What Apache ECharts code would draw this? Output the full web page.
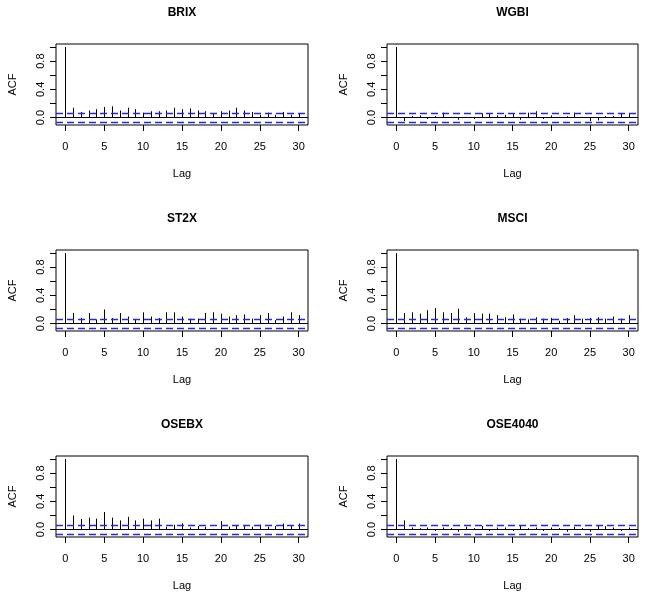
<!DOCTYPE html>
<html>
<head>
<meta charset="utf-8">
<script src="https://cdn.jsdelivr.net/npm/echarts@6/dist/echarts.min.js"></script>
<style>
html,body{margin:0;padding:0;background:#fff;}
#chart{width:645px;height:592px;}
</style>
</head>
<body>
<div id="chart"></div>
<script>
// ---- data ----
const lags = [0,1,2,3,4,5,6,7,8,9,10,11,12,13,14,15,16,17,18,19,20,21,22,23,24,25,26,27,28,29,30];
const panelTitles = ['BRIX','WGBI','ST2X','MSCI','OSEBX','OSE4040'];
const ciBound = 0.062;
const xTickValues = [0,5,10,15,20,25,30];
const yTickValues = [0,0.2,0.4,0.6,0.8,1.0];
const yLabelValues = [0,0.4,0.8];

const acfBRIX = [1,0.14,0.08,0.10,0.12,0.15,0.16,0.10,0.14,0.12,0.07,0.09,0.09,0.10,0.14,0.12,0.13,0.10,0.09,0.06,0.09,0.10,0.14,0.10,0.08,0.04,0.07,0.04,0.08,0.04,0.06];
const acfWGBI = [1,-0.05,0.02,0.03,-0.02,0.02,0.07,0.01,-0.03,0.01,-0.02,0.06,0.06,0.03,0.04,0.05,-0.03,0.07,0.09,-0.02,0.03,0.01,0.02,0.07,0.01,-0.05,-0.04,0.02,0.02,0.06,0.06];
const acfST2X = [1,0.15,0.08,0.15,0.06,0.20,0.08,0.15,0.10,0.06,0.16,0.10,0.08,0.16,0.16,0.10,0.07,0.07,0.15,0.16,0.14,0.10,0.12,0.13,0.07,0.12,0.15,0.05,0.10,0.16,0.12];
const acfMSCI = [1,0.15,0.16,0.14,0.19,0.22,0.16,0.15,0.21,0.09,0.15,0.14,0.14,0.12,0.09,0.13,0.07,0.06,0.09,0.07,0.08,0.04,0.08,0.12,0.07,0.08,0.09,0.07,0.10,0.07,0.12];
const acfOSEBX = [1,0.20,0.15,0.17,0.155,0.25,0.17,0.13,0.18,0.13,0.155,0.13,0.155,0.04,0.07,0.09,0.03,0.05,0.04,0.01,0.12,0.04,0.06,0.05,0.04,0.07,0.04,0.05,0.085,0.06,0.085];
const acfOSE4040 = [1,0.13,0.03,0.02,0.03,-0.02,0.03,0.02,-0.03,0.04,0.02,0.05,-0.02,0.03,0.03,-0.02,0.05,0.02,0.03,-0.02,0.03,0.02,-0.03,0.04,0.02,-0.03,0.06,0.05,0.03,-0.02,0.03];

const panelData = [acfBRIX, acfWGBI, acfST2X, acfMSCI, acfOSEBX, acfOSE4040];

// ---- layout ----
const colLeft = [56, 387];
const colWidth = [252, 251];
const rowTop = [44, 250, 456];
const boxHeight = 81;
const FONT = "'Liberation Sans', Arial, Helvetica, sans-serif";
const CI_COLOR = '#2626e6';

const grids = [], xAxes = [], yAxes = [], series = [], titles = [];
panelData.forEach((vals, i) => {
  const c = i % 2, r = Math.floor(i / 2);
  grids.push({
    left: colLeft[c], top: rowTop[r], width: colWidth[c], height: boxHeight,
    show: true, borderColor: '#000', borderWidth: 1, backgroundColor: 'transparent'
  });
  titles.push({
    text: panelTitles[i],
    left: colLeft[c] + colWidth[c] / 2,
    top: rowTop[r] - 37,
    textAlign: 'center',
    padding: 0,
    textStyle: {fontFamily: FONT, fontSize: 12, fontWeight: 'bold', color: '#000'}
  });
  xAxes.push({
    gridIndex: i, type: 'value', min: -1.2, max: 31.2, position: 'bottom',
    name: 'Lag', nameLocation: 'middle', nameGap: 43,
    nameTextStyle: {fontFamily: FONT, fontSize: 11, color: '#000'},
    axisLine: {show: false, onZero: false},
    axisTick: {show: true, inside: false, length: 6, customValues: xTickValues, lineStyle: {color: '#000', width: 1}},
    axisLabel: {show: true, inside: false, customValues: xTickValues, margin: 16, fontFamily: FONT, fontSize: 11, color: '#000'},
    splitLine: {show: false}
  });
  yAxes.push({
    gridIndex: i, type: 'value', min: -0.105, max: 1.043, position: 'left',
    name: 'ACF', nameLocation: 'middle', nameGap: 38, nameRotate: 90,
    nameTextStyle: {fontFamily: FONT, fontSize: 11, color: '#000'},
    axisLine: {show: false, onZero: false},
    axisTick: {show: true, inside: false, length: 6, customValues: yTickValues, lineStyle: {color: '#000', width: 1}},
    axisLabel: {show: true, inside: false, customValues: yLabelValues, rotate: 90, margin: 10,
      formatter: v => Number(v).toFixed(1), fontFamily: FONT, fontSize: 11, color: '#000'},
    splitLine: {show: false}
  });
  // ACF spikes + zero line
  series.push({
    type: 'custom', xAxisIndex: i, yAxisIndex: i, z: 2,
    data: lags.map((l, k) => [l, vals[k]]),
    renderItem: function (params, api) {
      const p0 = api.coord([api.value(0), 0]);
      const p1 = api.coord([api.value(0), api.value(1)]);
      const x = Math.round(p0[0]) + 0.5;
      return {type: 'line', shape: {x1: x, y1: p0[1], x2: x, y2: p1[1]},
        style: {stroke: '#000', lineWidth: 1}};
    },
    markLine: {
      silent: true, symbol: ['none', 'none'], label: {show: false}, animation: false,
      lineStyle: {color: '#000', type: 'solid', width: 1},
      data: [{yAxis: 0}]
    }
  });
  // confidence bounds (drawn above the spikes, as R does)
  series.push({
    type: 'line', xAxisIndex: i, yAxisIndex: i, data: [], z: 5,
    markLine: {
      silent: true, symbol: ['none', 'none'], label: {show: false}, animation: false, z: 5,
      lineStyle: {color: CI_COLOR, type: [7, 4], width: 1.3},
      data: [{yAxis: ciBound}, {yAxis: -ciBound}]
    }
  });
});

const chart = echarts.init(document.getElementById('chart'), null, {renderer: 'canvas'});
chart.setOption({
  animation: false,
  backgroundColor: '#fff',
  title: titles,
  grid: grids,
  xAxis: xAxes,
  yAxis: yAxes,
  series: series
});
</script>
</body>
</html>
